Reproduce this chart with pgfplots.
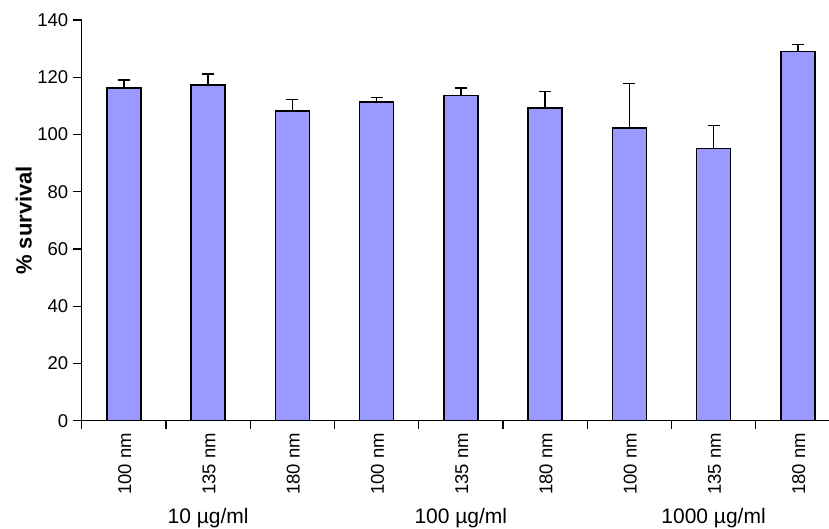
\documentclass[border=0pt]{standalone}
\usepackage{pgfplots}
\pgfplotsset{compat=1.18}
\usepackage{fontspec}
\setmainfont{Liberation Sans}
\definecolor{barblue}{RGB}{153,153,255}
\begin{document}
\begin{tikzpicture}
\begin{axis}[
  scale only axis, width=747.3pt, height=400.7pt,
  xmin=-0.5, xmax=8.37, ymin=0, ymax=140,
  clip=false,
  axis x line*=bottom, axis y line*=left,
  axis line style={-, black, line width=1.4pt},
  ytick={0,20,...,140},
  xtick={0,...,8},
  xticklabels={100 nm,135 nm,180 nm,100 nm,135 nm,180 nm,100 nm,135 nm,180 nm},
  minor xtick={-0.5,0.5,...,7.5},
  tick align=outside,
  major tick length=9pt,
  minor tick length=8pt,
  major x tick style={draw=none},
  minor x tick style={black, line width=1.4pt},
  major y tick style={black, line width=1.4pt},
  /pgf/number format/assume math mode=true,
  tick label style={font=\fontsize{18.5}{20}\selectfont},
  x tick label style={rotate=90, anchor=east, yshift=-1pt},
  yticklabel style={xshift=-1pt},
  ylabel={\bfseries\fontsize{22}{24}\selectfont \% survival},
  every axis y label/.style={at={(axis description cs:-0.0776,0.5)}, rotate=90, anchor=center},
]
\addplot[ybar, bar width=34pt, fill=barblue, draw=black, line width=1.4pt,
  error bars/.cd, y dir=plus, y explicit,
  error bar style={black, line width=1.4pt},
  error mark options={rotate=90, black, line width=1.4pt, mark size=6pt}]
  table[x=x, y=y, y error=e] {
x y e
0 116.3 2.7
1 117.3 3.8
2 108.2 4.1
3 111.3 1.7
4 113.6 2.7
5 109.2 5.9
6 102.2 15.7
7 95.1 8.1
8 128.9 2.5
};
\node[font=\fontsize{21}{24}\selectfont] at (axis cs:1,0) [yshift=-97pt] {10 µg/ml};
\node[font=\fontsize{21}{24}\selectfont] at (axis cs:4,0) [yshift=-97pt] {100 µg/ml};
\node[font=\fontsize{21}{24}\selectfont] at (axis cs:7,0) [yshift=-97pt] {1000 µg/ml};
\end{axis}
\pgfresetboundingbox
\path[use as bounding box] (-81.7pt,-108.3pt) rectangle (747.3pt,420.7pt);
\end{tikzpicture}
\end{document}
